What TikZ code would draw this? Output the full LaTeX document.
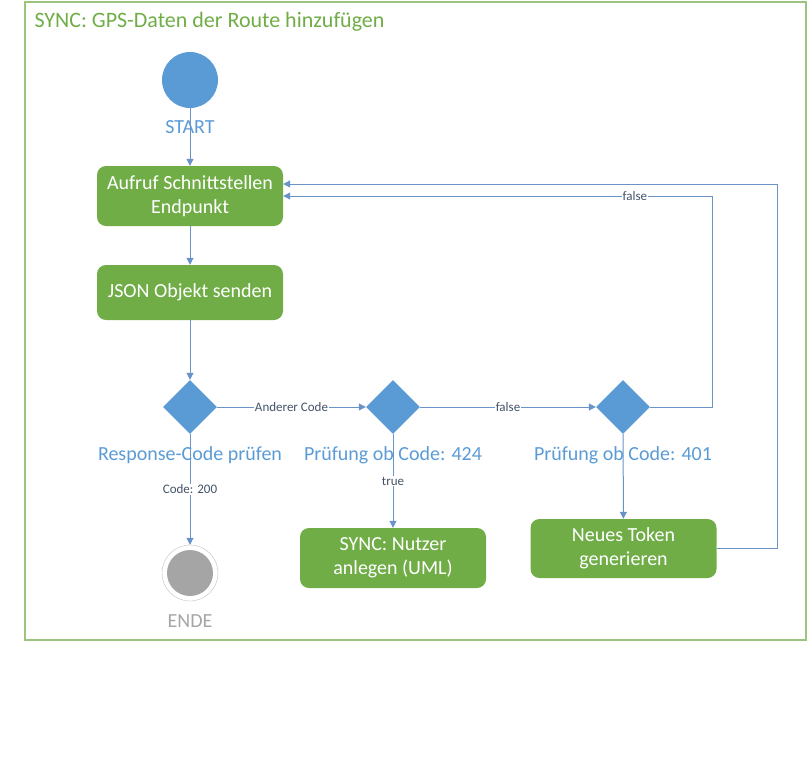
\documentclass[tikz,border=0pt]{standalone}
\usepackage{fontspec}
\setmainfont{Carlito}
\usetikzlibrary{shapes.geometric, arrows.meta}
\definecolor{actgreen}{HTML}{70AD47}
\definecolor{framegreen}{HTML}{9CC47E}
\definecolor{actblue}{HTML}{5B9BD5}
\definecolor{flowline}{HTML}{6A93C8}
\definecolor{flowtext}{HTML}{44546A}
\definecolor{endgrey}{HTML}{A5A5A5}

\begin{document}
\begin{tikzpicture}[x=1pt, y=-1pt,
	action/.style={fill=actgreen, rounded corners=9pt, text=white, minimum width=186pt,
		minimum height=60pt, align=center, font=\fontsize{20}{24}\selectfont},
	decision/.style={diamond, fill=actblue, minimum width=54pt, minimum height=54pt, inner sep=0pt},
	initial/.style={circle, fill=actblue, minimum size=56pt, inner sep=0pt},
	final/.style={circle, draw=endgrey!70, thin, minimum size=56pt, inner sep=0pt,
		path picture={\fill[endgrey] (path picture bounding box.center) circle (23pt);}},
	caption/.style={text=actblue, font=\fontsize{20}{24}\selectfont},
	flow/.style={draw=flowline, line width=1pt, -{Triangle[length=7pt,width=7pt]}},
	guard/.style={fill=white, text=flowtext, font=\fontsize{13}{15}\selectfont, inner sep=1pt}]
		\useasboundingbox (0,0) rectangle (809,777);
		% frame and title
		\draw[framegreen, line width=1.2pt] (25,2) rectangle (806,640);
		\node[anchor=west, text=actgreen, font=\fontsize{22}{26}\selectfont] (title) at (31,22) {SYNC: GPS-Daten der Route hinzufügen};
		% start and end
		\node[initial] (start) at (190,80) {};
		\node[caption] (startlbl) at (190,127) {START};
		\node[final] (end) at (190,573) {};
		\node[text=endgrey, font=\fontsize{20}{24}\selectfont] (endlbl) at (190,621) {ENDE};
		% actions
		\node[action] (call) at (190,196) {Aufruf Schnittstellen\\Endpunkt};
		\node[action, minimum height=55pt] (json) at (190,292.5) {JSON Objekt senden};
		\node[action] (user) at (393,558) {SYNC: Nutzer\\anlegen (UML)};
		\node[action, minimum height=59pt] (token) at (623.5,548.5) {Neues Token\\generieren};
		% decisions
		\node[decision] (rc) at (190,407) {};
		\node[decision] (c424) at (393,407) {};
		\node[decision] (c401) at (623,407) {};
		% bends of the loops
		\coordinate (loopA) at (712,196);
		\coordinate (loopB) at (777,184);
		% connectors
		\draw[flow] (start) -- (call);
		\draw[flow] (call) -- (json);
		\draw[flow] (json) -- (rc);
		\draw[flow] (rc) -- node[guard] {Anderer Code} (c424);
		\draw[flow] (c424) -- node[guard] {false} (c401);
		\draw[flow] (rc) -- node[guard] {Code: 200} (end);
		\draw[flow] (c424) -- node[guard] {true} (user);
		\draw[flow] (c401) -- (token);
		\draw[flow] (c401.east) -| (loopA) -- node[guard, pos=0.18] {false} (call.east |- loopA);
		\draw[flow] (token.east) -| (loopB) -- (call.east |- loopB);
		% decision labels
		\node[caption] (rclbl) at (190,455) {Response-Code prüfen};
		\node[caption] (c424lbl) at (393,455) {Prüfung ob Code: 424};
		\node[caption] (c401lbl) at (623,455) {Prüfung ob Code: 401};
	\end{tikzpicture}
\end{document}
